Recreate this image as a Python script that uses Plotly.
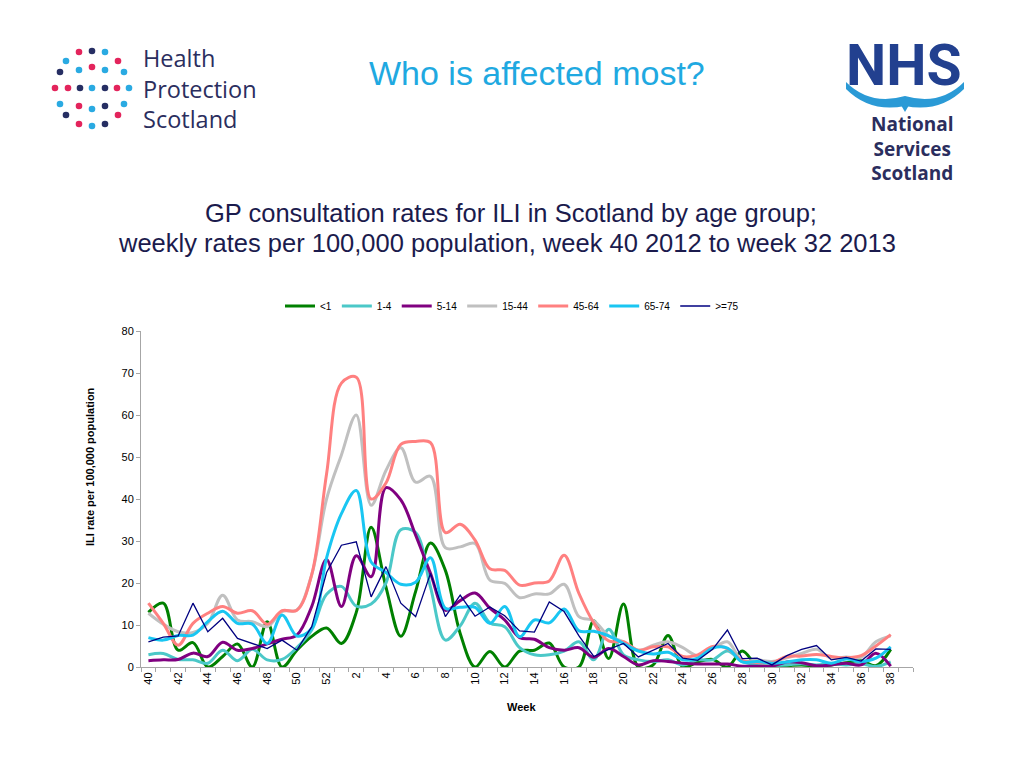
import plotly.graph_objects as go

# ---------------- data ----------------
weeks = [40, 41, 42, 43, 44, 45, 46, 47, 48, 49, 50, 51, 52,
         1, 2, 3, 4, 5, 6, 7, 8, 9, 10, 11, 12, 13, 14, 15, 16, 17, 18, 19,
         20, 21, 22, 23, 24, 25, 26, 27, 28, 29, 30, 31, 32, 33, 34, 35, 36, 37, 38]
n_categories = 52  # axis has one extra (empty) category after week 38

age_groups = ["<1", "1-4", "5-14", "15-44", "45-64", "65-74", ">=75"]

rate_lt1 = [13, 15.2, 4, 5.8, 0, 2.5, 5.5, 0, 10.8, 0,
            4, 7.3, 9.3, 5.6, 13, 33.3, 19, 7.3, 18, 29.5,
            23, 8, 0, 3.7, 0, 3.8, 4, 5.7, 0, 0,
            11, 2, 15, 0, 0.5, 7.5, 0, 1.2, 1.8, 0,
            3.8, 0.3, 0.2, 0.3, 0.5, 0.2, 0.5, 1, 1.5, 0.3, 4.2]
rate_1_4 = [2.9, 3.2, 1.8, 1.7, 0.9, 4, 1.5, 4.2, 1.7, 1.8,
            4.6, 8.8, 17.3, 19.2, 14.5, 15, 20, 32.7, 32, 19,
            6.4, 9.8, 15.2, 10.5, 9.6, 4.6, 2.9, 2.9, 3.8, 6,
            1.7, 9, 2.9, 1.7, 1.3, 1.7, 0.5, 1.7, 1.7, 3.8,
            1.3, 0.6, 0.4, 0.5, 0.8, 0.5, 0.8, 0.5, 0.8, 0.1, 1.2]
rate_5_14 = [1.5, 1.7, 1.8, 3.3, 2.5, 5.9, 4, 4.4, 5.5, 6.6,
             7.6, 14.4, 25.6, 14.4, 26.5, 21.5, 42.7, 39.8, 31.4, 22.3,
             13.5, 15.8, 17.6, 14, 11.2, 7, 6.6, 4.6, 4, 4.6,
             2.3, 4.4, 2.5, 0.5, 1.5, 1.3, 0.9, 0.7, 0.7, 0.7,
             0.2, 0.2, 0.2, 1.2, 1, 0.3, 0.5, 0.9, 0.5, 3.3, 0.2]
rate_15_44 = [12.8, 10.2, 8.4, 8.2, 10.4, 17.1, 11.2, 10.8, 9.6, 13.2,
              13.6, 22, 40, 50.5, 60, 38.5, 46.8, 52.2, 44, 45.4,
              28.4, 28.6, 29.4, 20.7, 19.9, 16.5, 17.4, 17.4, 19.7, 12,
              11, 7.4, 6, 4, 5.2, 6, 4.6, 2.7, 4.4, 6,
              1.5, 1.7, 1.3, 2.2, 3.2, 4.2, 2.1, 2.4, 2.3, 6, 7.4]
rate_45_64 = [15.2, 10.4, 5.2, 10.4, 12.8, 14.4, 12.8, 13.4, 10.2, 13.4,
              13.5, 22, 46, 67.6, 69, 40, 43.8, 53, 53.7, 53.4,
              32, 34, 30.2, 23.4, 23, 19.5, 20, 20.5, 26.6, 17.5,
              10.5, 6.2, 6, 4, 4.8, 4.8, 2.5, 2.9, 4.9, 4.4,
              1.5, 1.1, 1, 2.5, 2.6, 3, 2.5, 2.2, 2.7, 5, 7.7]
rate_65_74 = [7, 6.4, 7.5, 7.6, 10.8, 13.3, 10.4, 10.2, 5.6, 12.4,
              7.4, 9.2, 26, 36.5, 42, 25, 22.5, 19.7, 20.2, 26,
              14, 14.2, 14.2, 10.4, 14.4, 7.2, 11.2, 10.5, 13.8, 8.6,
              8.5, 7.4, 5.6, 3.8, 3.1, 3.5, 1.7, 2.1, 4.5, 4.5,
              1.2, 1.3, 0.9, 1.2, 1.7, 1.7, 0.9, 1.9, 1.3, 2.1, 4.8]
rate_75plus = [6, 7.1, 7.4, 15.2, 8.4, 11.6, 6.8, 5.6, 4.4, 6.4,
               4, 9.6, 22.5, 29, 29.8, 16.7, 23.9, 15.2, 12, 22.3,
               12, 17.1, 12.1, 14.3, 12.2, 8.6, 8.3, 15.5, 13.2, 7.4,
               2.5, 4.2, 5.6, 2.4, 4, 5.6, 2.1, 1.6, 4.2, 8.8,
               2, 2.1, 0.5, 2.7, 4.2, 5.1, 1.7, 2.3, 1.4, 4.3, 4.2]

series = [rate_lt1, rate_1_4, rate_5_14, rate_15_44, rate_45_64, rate_65_74, rate_75plus]
colors = ["#008000", "#4BC8C8", "#800080", "#C0C0C0", "#FF8080", "#19C6F2", "#000080"]
widths = [3, 3, 3, 3, 3, 3, 1.3]
smooth = [True, True, True, True, True, True, False]

FONT = "Liberation Sans, Arial, sans-serif"
LOGO_FONT = "Open Sans, Noto Sans, sans-serif"

# plot-area pixel frame (for placing page decorations)
L, R, T, B = 141, 913, 331, 667
def px(x):
    return (x - L) / (R - L)
def py(y):
    return (B - y) / (B - T)

x_idx = list(range(len(weeks)))

fig = go.Figure()
for name, vals, col, w, sm in zip(age_groups, series, colors, widths, smooth):
    fig.add_trace(go.Scatter(
        x=x_idx, y=vals, name=name, mode="lines",
        line=dict(color=col, width=w, shape="spline" if sm else "linear", smoothing=1.0),
    ))

tick_pos = [i for i in x_idx if i % 2 == 0]
tick_txt = [str(weeks[i]) for i in tick_pos]

fig.update_xaxes(
    range=[-0.5, n_categories - 0.5],
    tickmode="array", tickvals=tick_pos, ticktext=tick_txt,
    tickangle=-90, ticks="", showgrid=False, zeroline=False,
    showline=True, linecolor="#A6A6A6", linewidth=1,
    tickfont=dict(family=FONT, size=11, color="#000000"),
    minor=dict(tickmode="array", tickvals=[i - 0.5 for i in range(n_categories + 1)],
               ticks="outside", ticklen=4, tickcolor="#A6A6A6", showgrid=False),
)
fig.update_yaxes(
    range=[0, 80], dtick=10, tick0=0,
    ticks="outside", ticklen=4, tickcolor="#A6A6A6",
    showgrid=False, zeroline=False,
    showline=True, linecolor="#A6A6A6", linewidth=1,
    tickfont=dict(family=FONT, size=11, color="#000000"),
)

annotations = [
    dict(text="Who is affected most?", x=px(537), y=py(73), font=dict(family=FONT, size=34, color="#1FA9E1")),
    dict(text="GP consultation rates for ILI in Scotland by age group;", x=px(511), y=py(213),
         font=dict(family=FONT, size=25.5, color="#1B1B4D")),
    dict(text="weekly rates per 100,000 population, week 40 2012 to week 32 2013", x=px(507), y=py(243),
         font=dict(family=FONT, size=25.5, color="#1B1B4D")),
    dict(text="<b>Week</b>", x=px(521), y=py(707), font=dict(family=FONT, size=11, color="#000000")),
    dict(text="<b>ILI rate per 100,000 population</b>", x=px(90), y=py(467), textangle=-90,
         font=dict(family=FONT, size=11, color="#000000")),
    # Health Protection Scotland logo text
    dict(text="Health<br>Protection<br>Scotland", x=px(141), y=py(89), xanchor="left", align="left",
         font=dict(family=LOGO_FONT, size=23.5, color="#2B2E5E")),
    # NHS logo text
    dict(text="<b>NHS</b>", x=px(904), y=py(65), font=dict(family="Roboto, Liberation Sans, sans-serif", size=57, color="#22408F")),
    dict(text="<b>National<br>Services<br>Scotland</b>", x=px(912), y=py(149), align="center",
         font=dict(family=LOGO_FONT, size=19, color="#2B2E5E")),
]
for a in annotations:
    a.update(xref="paper", yref="paper", showarrow=False)
    a.setdefault("xanchor", "center")
    a.setdefault("yanchor", "middle")

shapes = []
# HPS dot logo
RED, BLUE, NAVY = "#E3245C", "#2AAAE2", "#262E63"
dots = [
    (79, 52, RED), (92, 51, NAVY), (105, 52, BLUE),
    (66, 61, BLUE), (118, 61, RED),
    (60, 72, NAVY), (79, 70, BLUE), (92, 67, RED), (105, 70, BLUE), (124, 72, BLUE),
    (55, 88, RED), (68, 88, RED), (80, 88, NAVY), (92, 88, BLUE), (105, 88, NAVY), (117, 88, RED), (129, 88, BLUE),
    (60, 104, BLUE), (79, 106, RED), (92, 109, BLUE), (105, 106, NAVY), (124, 104, BLUE),
    (66, 115, NAVY), (118, 115, RED),
    (79, 124, RED), (92, 126, BLUE), (105, 124, NAVY),
]
r = 3.3
for (cx, cy, c) in dots:
    shapes.append(dict(type="circle", xref="paper", yref="paper",
                       x0=px(cx - r), x1=px(cx + r), y0=py(cy + r), y1=py(cy - r),
                       fillcolor=c, line=dict(width=0)))

# NHS wave (swoosh)
def P(x, y):
    return f"{px(x):.5f},{py(y):.5f}"
wave = ("M " + P(846, 82) + " Q " + P(870, 106) + " " + P(905, 96) +
        " Q " + P(940, 106) + " " + P(964, 82) +
        " L " + P(964, 89) + " Q " + P(940, 113) + " " + P(905, 106) +
        " Q " + P(870, 113) + " " + P(846, 89) + " Z")
shapes.append(dict(type="path", xref="paper", yref="paper", path=wave,
                   fillcolor="#2A9AD6", line=dict(width=0)))
shapes.append(dict(type="path", xref="paper", yref="paper",
                   path="M " + P(898, 100) + " L " + P(905, 112) + " L " + P(912, 100) + " Z",
                   fillcolor="#2A9AD6", line=dict(width=0)))

fig.update_layout(
    width=1024, height=768,
    margin=dict(l=L, r=1024 - R, t=T, b=768 - B, pad=0),
    paper_bgcolor="white", plot_bgcolor="white",
    font=dict(family=FONT, size=10, color="#000000"),
    showlegend=True,
    legend=dict(orientation="h", x=px(512), xanchor="center", y=py(306), yanchor="middle",
                font=dict(family=FONT, size=10, color="#000000"),
                bgcolor="rgba(0,0,0,0)", itemwidth=30, tracegroupgap=0),
    annotations=annotations,
    shapes=shapes,
)

fig.write_html("out.html", config={"displayModeBar": False},
               post_script="document.body.style.margin='0';document.body.style.overflow='hidden';")
